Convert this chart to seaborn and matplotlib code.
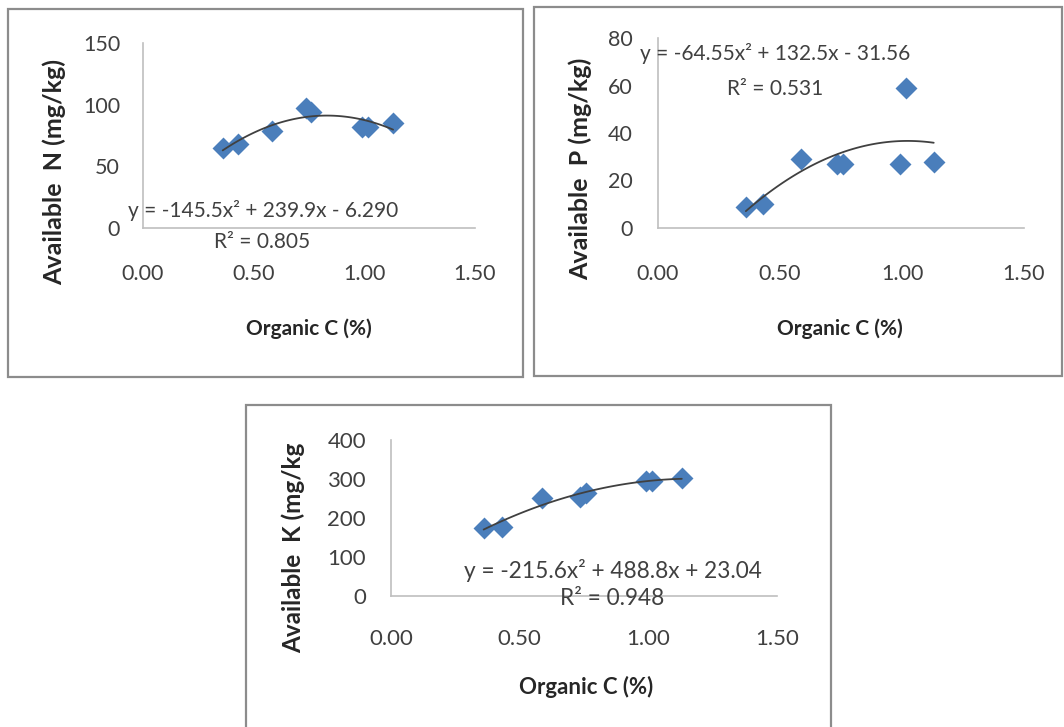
import numpy as np
import pandas as pd
import matplotlib
matplotlib.use("Agg")
import matplotlib.pyplot as plt
import seaborn as sns
from matplotlib.patches import Rectangle

# =====================================
# Data
# =====================================

organic_c = [0.36, 0.43, 0.585, 0.735, 0.757, 0.99, 1.015, 1.13]
avail_n = [65, 68, 79, 97, 94, 82, 82, 85]
avail_p = [9, 10, 29, 27, 27, 27, 59, 28]
avail_k = [175, 178, 252, 255, 263, 296, 294, 302]

nutrients = ["N", "P", "K"]
y_labels = ["Available  N (mg/kg)", "Available  P (mg/kg)", "Available  K (mg/kg"]
y_max = [150, 80, 400]
y_step = [50, 20, 100]
x_ticks = [0.0, 0.5, 1.0, 1.5]
equations = [
    "y = -145.5x² + 239.9x - 6.290",
    "y = -64.55x² + 132.5x - 31.56",
    "y = -215.6x² + 488.8x + 23.04",
]
r2_texts = ["R² = 0.805", "R² = 0.531", "R² = 0.948"]

df = pd.DataFrame({"organic_c": organic_c, "N": avail_n, "P": avail_p, "K": avail_k})

# =====================================
# Layout (pixel boxes of the composite)
# =====================================

W, H = 1064, 727
frames = [(8, 9, 523, 377), (534, 7, 1062, 376), (246, 405, 831, 760)]
plot_boxes = [(143, 43, 475, 228), (658, 38, 1024, 228), (391, 440, 777, 596)]

tick_size = [15.5, 15.5, 16]
ylab_size = [18, 18, 17.5]
xlab_size = [15, 15, 16]
eq_size = [15, 15, 16.3]
xtick_pad = [26, 26, 24]
ytick_pad = [16.5, 18, 18]
xlab_pos = [(0.5, -0.546), (0.497, -0.532), (0.505, -0.583)]
ylab_pos = [(-0.268, 0.305), (-0.212, 0.313), (-0.252, 0.308)]
eq_pos = [(-0.045, 0.097), (-0.049, 0.921), (0.189, 0.161)]
r2_pos = [(0.358, -0.076), (0.320, 0.732), (0.573, -0.019)]

sns.set_theme(style="white")
plt.rcParams["font.family"] = ["Lato", "DejaVu Sans"]

fig = plt.figure(figsize=(W / 100, H / 100), dpi=100)
fig.patch.set_facecolor("white")


def to_fig(l, t, r, b):
    return [l / W, 1 - b / H, (r - l) / W, (b - t) / H]


for i, nut in enumerate(nutrients):
    # chart border
    l, t, r, b = frames[i]
    fig.add_artist(Rectangle((l / W, 1 - b / H), (r - l) / W, (b - t) / H,
                             transform=fig.transFigure, fill=False,
                             edgecolor="#8c8c8c", linewidth=1.6))

    ax = fig.add_axes(to_fig(*plot_boxes[i]))
    ax.set_facecolor("none")

    sns.scatterplot(data=df, x="organic_c", y=nut, marker="D", s=125,
                    color="#4a7ebb", linewidth=0, ax=ax, zorder=2)
    sns.regplot(data=df, x="organic_c", y=nut, order=2, ci=None, scatter=False,
                truncate=True, line_kws=dict(color="#404040", linewidth=1.3),
                ax=ax)

    ax.set_xlim(0, 1.5)
    ax.set_ylim(0, y_max[i])
    ax.set_xticks(x_ticks)
    ax.set_xticklabels([f"{v:.2f}" for v in x_ticks])
    ax.set_yticks(np.arange(0, y_max[i] + 1, y_step[i]))
    ax.tick_params(axis="both", length=0, labelsize=tick_size[i], colors="#404040")
    ax.tick_params(axis="x", pad=xtick_pad[i])
    ax.tick_params(axis="y", pad=ytick_pad[i])

    for side in ["top", "right"]:
        ax.spines[side].set_visible(False)
    for side in ["left", "bottom"]:
        ax.spines[side].set_color("#bfbfbf")
        ax.spines[side].set_linewidth(1.2)

    ax.set_xlabel("Organic C (%)", fontsize=xlab_size[i], fontweight="bold", color="#262626")
    ax.xaxis.set_label_coords(*xlab_pos[i])
    ax.xaxis.label.set_va("center")
    ax.set_ylabel(y_labels[i], fontsize=ylab_size[i], fontweight="bold", color="#262626")
    ax.yaxis.set_label_coords(*ylab_pos[i])
    ax.yaxis.label.set_va("center")

    ax.text(*eq_pos[i], equations[i], transform=ax.transAxes, ha="left", va="center",
            fontsize=eq_size[i], color="#404040", zorder=3)
    ax.text(*r2_pos[i], r2_texts[i], transform=ax.transAxes, ha="center", va="center",
            fontsize=eq_size[i], color="#404040", zorder=3)

fig.savefig("out.png", dpi=100, facecolor="white")
